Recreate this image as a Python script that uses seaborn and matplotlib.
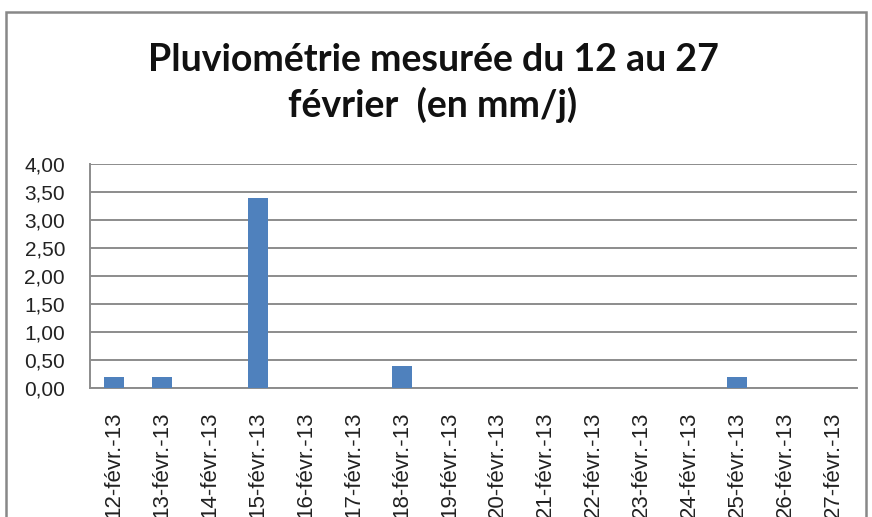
import matplotlib
matplotlib.use("Agg")
import matplotlib.pyplot as plt
from matplotlib.patches import Rectangle
from matplotlib.ticker import FixedLocator, FuncFormatter
import pandas as pd
import seaborn as sns

# pluviometrie journaliere (mm/j), 12 au 27 fevrier 2013
jours = ["12-févr.-13", "13-févr.-13", "14-févr.-13", "15-févr.-13",
         "16-févr.-13", "17-févr.-13", "18-févr.-13", "19-févr.-13",
         "20-févr.-13", "21-févr.-13", "22-févr.-13", "23-févr.-13",
         "24-févr.-13", "25-févr.-13", "26-févr.-13", "27-févr.-13"]
pluie = [0.2, 0.2, 0.0, 3.4, 0.0, 0.0, 0.4, 0.0,
         0.0, 0.0, 0.0, 0.0, 0.0, 0.2, 0.0, 0.0]
y_ticks = [0, 0.5, 1, 1.5, 2, 2.5, 3, 3.5, 4]

df = pd.DataFrame({"jour": jours, "pluie": pluie})

sns.set_style("white")
plt.rcParams["font.family"] = ["Liberation Sans", "DejaVu Sans"]

fig = plt.figure(figsize=(8.72, 5.17), dpi=100)
ax = fig.add_axes([90 / 872, 1 - 388 / 517, (857 - 90) / 872, (388 - 164) / 517])

sns.barplot(data=df, x="jour", y="pluie", color="#4F81BD", width=0.42,
            saturation=1, linewidth=0, ax=ax, zorder=3)

ax.set_xlim(-0.5, len(jours) - 0.5)
ax.set_ylim(0, 4)
ax.set_xlabel("")
ax.set_ylabel("")

ax.yaxis.set_major_locator(FixedLocator(y_ticks))
ax.yaxis.set_major_formatter(FuncFormatter(lambda v, p: f"{v:.2f}".replace(".", ",")))
ax.grid(axis="y", color="#8c8c8c", linewidth=1.4, zorder=0)
ax.grid(axis="x", visible=False)

# ticks between categories, labels at centres
ax.set_xticks([i - 0.5 for i in range(len(jours) + 1)], minor=True)
ax.tick_params(axis="x", which="minor", length=6, width=1.2, color="#8c8c8c", direction="out")
ax.tick_params(axis="x", which="major", length=0, pad=17, labelsize=16,
               labelrotation=90, labelcolor="#222222")
ax.tick_params(axis="y", which="major", length=6, width=1.2, color="#8c8c8c",
               direction="out", pad=12, labelsize=15, labelcolor="#222222")
for lab in ax.get_xticklabels():
    lab.set_va("top")

for s in ["top", "right"]:
    ax.spines[s].set_visible(False)
for s in ["left", "bottom"]:
    ax.spines[s].set_color("#8c8c8c")
    ax.spines[s].set_linewidth(1.4)

fig.text(433 / 872, 1 - 83 / 517, "Pluviométrie mesurée du 12 au 27\nfévrier  (en mm/j)",
         ha="center", va="center", fontsize=27, fontweight="bold",
         family=["Lato", "DejaVu Sans"], linespacing=1.35, color="#111111")

# cadre du graphique
fig.patches.append(Rectangle((6 / 872, -0.05), (866 - 6) / 872, 1.05 - 12 / 517,
                             transform=fig.transFigure, fill=False,
                             edgecolor="#888888", linewidth=1.8))

fig.savefig("out.png", dpi=100)
